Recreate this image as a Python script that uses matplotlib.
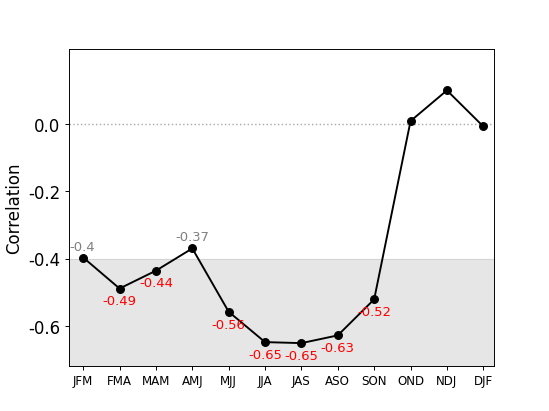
import matplotlib
matplotlib.use("Agg")
import matplotlib.pyplot as plt

plt.rcParams['axes.unicode_minus'] = False

seasons = ["JFM", "FMA", "MAM", "AMJ", "MJJ", "JJA", "JAS", "ASO", "SON", "OND", "NDJ", "DJF"]
corr = [-0.397, -0.489, -0.436, -0.370, -0.558, -0.648, -0.651, -0.628, -0.521, 0.008, 0.099, -0.008]
threshold = -0.4

fig, ax = plt.subplots(figsize=(6.4, 4.8), dpi=85.8)
x = list(range(len(seasons)))

ymin, ymax = -0.718, 0.223
ax.axhspan(ymin, threshold, color="#e6e6e6", zorder=0)
ax.axhline(threshold, color="#d3d3d3", lw=0.8, zorder=0.5)
ax.axhline(0.0, color="darkgrey", lw=1.2, ls=":", zorder=0.5)

ax.plot(x, corr, color="black", lw=1.6, marker="o", markersize=6.5, zorder=3)

for xi, v in zip(x, corr):
    lab = str(round(v, 2))
    if v < threshold:
        ax.annotate(lab, (xi, v), xytext=(0, -5), textcoords="offset points",
                    ha="center", va="top", color="red", fontsize=11)
    elif v <= -0.3:
        ax.annotate(lab, (xi, v), xytext=(-1 if xi == 0 else 0, 4), textcoords="offset points",
                    ha="center", va="bottom", color="grey", fontsize=11)

ax.set_xlim(-0.4, 11.3)
ax.set_ylim(ymin, ymax)
ax.set_xticks(x)
ax.set_xticklabels(seasons, fontsize=10)
ax.set_yticks([0.0, -0.2, -0.4, -0.6])
ax.set_yticklabels(["0.0", "-0.2", "-0.4", "-0.6"], fontsize=14)
ax.set_ylabel("Correlation", fontsize=14)

fig.savefig("out.png", dpi=85.8)
